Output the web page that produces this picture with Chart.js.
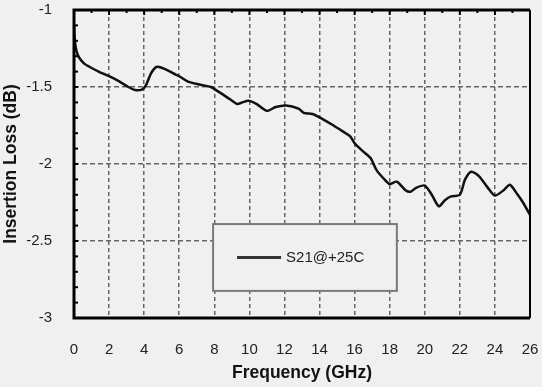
<!DOCTYPE html>
<html>
<head>
<meta charset="utf-8">
<script src="https://cdn.jsdelivr.net/npm/chart.js@4.4.0/dist/chart.umd.min.js"></script>
<style>
  html, body { margin: 0; padding: 0; background: #f0f0f0; }
  #wrap { width: 542px; height: 387px; position: relative; }
</style>
</head>
<body>
<div id="wrap"><canvas id="chart_s21"></canvas></div>
<script>
// S21 insertion loss vs frequency
var freqGHz = [0, 0.05, 0.15, 0.3, 0.6, 0.9, 1.4, 2.0, 2.6, 3.1, 3.5, 3.9, 4.1, 4.4, 4.7, 5.0, 5.4, 5.8, 6.0, 6.5,
               7.2, 7.8, 8.3, 8.9, 9.3, 9.6, 9.95, 10.4, 11.0, 11.5, 12.1, 12.8, 13.1, 13.6, 14.2, 14.8, 15.35, 15.75,
               16.0, 16.4, 16.9, 17.25, 17.7, 18.0, 18.4, 18.9, 19.2, 19.5, 20.0, 20.4, 20.8, 21.15, 21.5, 22.0,
               22.3, 22.65, 23.1, 23.6, 24.0, 24.5, 24.85, 25.3, 25.6, 26.0]
var lossDb = [-1.09, -1.20, -1.27, -1.31, -1.35, -1.37, -1.40, -1.43, -1.465, -1.50, -1.52, -1.515, -1.49, -1.41,
              -1.37, -1.375, -1.395, -1.42, -1.43, -1.465, -1.485, -1.50, -1.535, -1.58, -1.61, -1.60, -1.59, -1.61,
              -1.655, -1.63, -1.62, -1.64, -1.668, -1.675, -1.71, -1.75, -1.79, -1.82, -1.865, -1.91, -1.96, -2.04,
              -2.10, -2.13, -2.115, -2.17, -2.18, -2.155, -2.14, -2.20, -2.275, -2.235, -2.21, -2.20, -2.10, -2.05,
              -2.08, -2.155, -2.205, -2.17, -2.135, -2.20, -2.25, -2.33]
var seriesLabel = 'S21@+25C'
var xTitle = 'Frequency (GHz)'
var yTitle = 'Insertion Loss (dB)'
var xRange = [0, 26], xStep = 2, xMinor = 1
var yRange = [-3, -1], yStep = 0.5, yMinor = 0.1

var points = freqGHz.map(function(f, i) { return {x: f, y: lossDb[i]}; })

// frame, inward minor ticks and the boxed legend
var framePlugin = {
    id: 'frame',
    afterDatasetsDraw: function(chart) {
        var ctx = chart.ctx, a = chart.chartArea
        var x = chart.scales.x, y = chart.scales.y
        ctx.save()
        ctx.strokeStyle = '#000'
        ctx.lineWidth = 2
        for (var f = xRange[0]; f <= xRange[1]; f += xMinor) {
            var px = x.getPixelForValue(f)
            var len = (f % xStep === 0) ? 5 : 3
            ctx.beginPath(); ctx.moveTo(px, a.top); ctx.lineTo(px, a.top + len); ctx.stroke()
        }
        for (var k = 0; k <= Math.round((yRange[1] - yRange[0]) / yMinor); k++) {
            var py = y.getPixelForValue(yRange[0] + k * yMinor)
            ctx.beginPath(); ctx.moveTo(a.left, py); ctx.lineTo(a.left + 4, py); ctx.stroke()
        }
        ctx.lineWidth = 3
        ctx.beginPath()
        ctx.moveTo(a.right, a.top); ctx.lineTo(a.left, a.top)
        ctx.lineTo(a.left, a.bottom); ctx.lineTo(a.right, a.bottom)
        ctx.stroke()
        ctx.lineWidth = 2
        ctx.beginPath(); ctx.moveTo(a.right, a.top); ctx.lineTo(a.right, a.bottom); ctx.stroke()

        // legend box
        var w = a.right - a.left, h = a.bottom - a.top
        var bx = a.left + w * 0.305, by = a.top + h * 0.695
        var bw = w * 0.403, bh = h * 0.217
        ctx.fillStyle = '#f0f0f0'
        ctx.fillRect(bx, by, bw, bh)
        ctx.strokeStyle = '#7a7a7a'
        ctx.lineWidth = 2
        ctx.strokeRect(bx, by, bw, bh)
        var ly = by + bh * 0.5
        ctx.strokeStyle = '#333'
        ctx.lineWidth = 3
        ctx.beginPath(); ctx.moveTo(bx + 24, ly); ctx.lineTo(bx + 68, ly); ctx.stroke()
        ctx.fillStyle = '#222'
        ctx.font = '15px "Liberation Sans", Arial, sans-serif'
        ctx.textBaseline = 'middle'
        ctx.fillText(seriesLabel, bx + 73, ly)
        ctx.restore()
    }
}

var ctx = document.getElementById('chart_s21')

var chartS21 = new Chart(ctx, {
    type: 'line',
    data: {
        datasets: [{
            label: seriesLabel,
            data: points,
            borderColor: '#111',
            borderWidth: 2.5,
            pointRadius: 0,
            tension: 0.25,
            fill: false
        }]
    },
    plugins: [framePlugin],
    options: {
        responsive: true,
        maintainAspectRatio: false,
        animation: false,
        layout: { padding: { left: 0, right: 12, top: 10, bottom: 0 } },
        plugins: {
            legend: { display: false },
            tooltip: { enabled: false }
        },
        scales: {
            x: {
                type: 'linear',
                min: xRange[0],
                max: xRange[1],
                border: { display: false, dash: [4, 3] },
                grid: { color: '#666', lineWidth: 1.5, drawTicks: false },
                ticks: {
                    stepSize: xStep,
                    autoSkip: false,
                    maxRotation: 0,
                    padding: 23,
                    color: '#222',
                    font: { family: '"Liberation Sans", Arial, sans-serif', size: 15 }
                },
                title: {
                    display: true,
                    text: xTitle,
                    color: '#111',
                    padding: { top: 0, bottom: 3 },
                    font: { family: '"Liberation Sans", Arial, sans-serif', size: 17.5, weight: 'bold' }
                },
                afterFit: function(scale) {
                    scale.height = 69
                    scale.paddingLeft = 0
                    scale.paddingRight = 0
                }
            },
            y: {
                min: yRange[0],
                max: yRange[1],
                border: { display: false, dash: [5, 3] },
                grid: { color: '#666', lineWidth: 1.5, drawTicks: false },
                ticks: {
                    stepSize: yStep,
                    padding: 22,
                    color: '#222',
                    font: { family: '"Liberation Sans", Arial, sans-serif', size: 15 },
                    callback: function(value) { return String(value); }
                },
                title: {
                    display: true,
                    text: yTitle,
                    color: '#111',
                    padding: { top: 1, bottom: 0 },
                    font: { family: '"Liberation Sans", Arial, sans-serif', size: 17.5, weight: 'bold' }
                },
                afterFit: function(scale) {
                    scale.width = 74
                    scale.paddingTop = 0
                    scale.paddingBottom = 0
                }
            }
        }
    }
});
</script>
</body>
</html>
